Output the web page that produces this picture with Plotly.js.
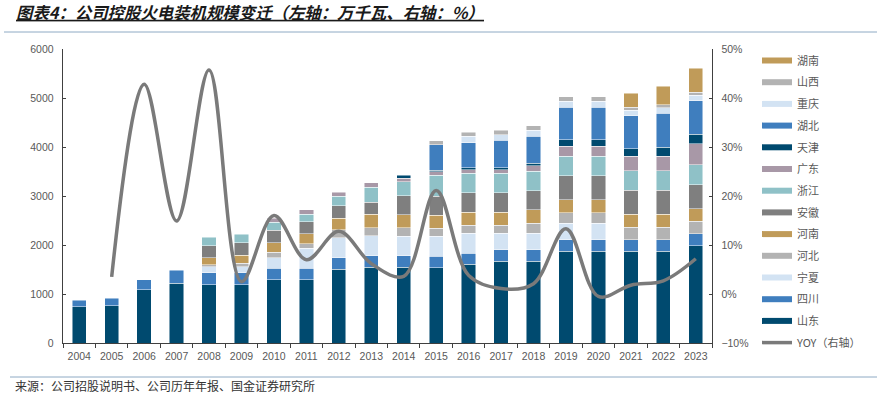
<!DOCTYPE html>
<html>
<head>
<meta charset="utf-8">
<script src="https://cdn.plot.ly/plotly-3.0.1.min.js"></script>
<style>html,body{margin:0;padding:0;background:#fff;}#chart{width:877px;height:393px;}</style>
</head>
<body>
<div id="chart"></div>
<script>
const years = ["2004","2005","2006","2007","2008","2009","2010","2011","2012","2013","2014","2015","2016","2017","2018","2019","2020","2021","2022","2023"];
const shandong = [735,765,1090,1220,1190,1190,1295,1295,1510,1545,1545,1540,1605,1665,1665,1870,1870,1870,1870,1985];
const sichuan  = [140,150,200,265,240,240,235,235,230,240,235,235,230,240,240,240,240,240,240,245];
const ningxia  = [0,0,0,0,130,125,210,400,405,400,395,400,400,330,335,335,335,0,0,0];
const hebei    = [0,0,0,0,40,70,115,100,165,170,175,170,170,170,205,210,210,250,250,250];
const henan    = [0,0,0,0,135,170,190,195,235,270,270,265,265,265,270,265,265,270,270,260];
const anhui    = [0,0,0,0,250,250,260,250,260,245,385,385,395,395,395,490,490,490,490,490];
const zhejiang = [0,0,0,0,170,170,155,155,185,305,285,425,400,400,395,400,400,400,400,405];
const guangdong= [0,0,0,0,0,0,90,85,85,95,75,75,75,75,115,205,205,290,290,435];
const tianjin  = [0,0,0,0,0,0,0,0,0,0,60,35,35,35,45,135,135,150,185,190];
const hubei    = [0,0,0,0,0,0,0,0,0,0,0,515,515,560,555,665,665,675,690,685];
const chongqing= [0,0,0,0,0,0,0,0,0,0,0,0,130,115,120,115,115,115,115,115];
const shanxi   = [0,0,0,0,0,0,0,0,0,0,0,80,80,95,90,95,95,65,65,60];
const hunan    = [0,0,0,0,0,0,0,0,0,0,0,0,0,0,0,0,0,280,375,490];
const yoy      = [null,3.5,42.8,14.9,45.7,2.5,16.0,7.0,12.8,6.2,3.6,21.1,3.8,1.1,2.1,13.3,-0.5,1.8,2.7,7.2];
const yTicks2  = [-10,0,10,20,30,40,50];
const yTickText2 = ["−10%","0%","10%","20%","30%","40%","50%"];

const C_NAVY="#004a6f", C_BLUE="#3f7ebe", C_LBLUE="#d3e3f3", C_LGRAY="#b3b3b3",
      C_TAN="#c09b59", C_GRAY="#7f7f7f", C_TEAL="#8fc1c7", C_MAUVE="#a898a7";

const series = [
  ["山东", shandong, C_NAVY],
  ["四川", sichuan, C_BLUE],
  ["宁夏", ningxia, C_LBLUE],
  ["河北", hebei, C_LGRAY],
  ["河南", henan, C_TAN],
  ["安徽", anhui, C_GRAY],
  ["浙江", zhejiang, C_TEAL],
  ["广东", guangdong, C_MAUVE],
  ["天津", tianjin, C_NAVY],
  ["湖北", hubei, C_BLUE],
  ["重庆", chongqing, C_LBLUE],
  ["山西", shanxi, C_LGRAY],
  ["湖南", hunan, C_TAN]
];

const traces = [];
series.forEach(function(s){
  traces.push({
    type:"bar", name:s[0], x:years, y:s[1].map(v => v===0?null:v),
    marker:{color:s[2], line:{color:"rgba(255,255,255,0.8)", width:0.6}},
    showlegend:false, hoverinfo:"x+y+name"
  });
});
traces.push({
  type:"scatter", mode:"lines", name:"YOY（右轴）", x:years, y:yoy, yaxis:"y2",
  line:{color:"#7a7a7a", width:3.5, shape:"spline", smoothing:1},
  showlegend:false, connectgaps:false
});
// legend entries (line-style keys as in the reference)
const legendOrder = series.slice().reverse();
legendOrder.forEach(function(s, i){
  traces.push({type:"scatter", mode:"lines", name:s[0], x:[null], y:[null],
    line:{color:s[2], width:6}, showlegend:true, legendgroup:"g"+i, legendrank:i+1, hoverinfo:"skip"});
});
traces.push({type:"scatter", mode:"lines", name:"YOY（右轴）", x:[null], y:[null], yaxis:"y2",
  line:{color:"#7a7a7a", width:3.5}, showlegend:true, legendgroup:"gy", legendrank:20, hoverinfo:"skip"});

const tickFont = {family:"Liberation Sans, Arial, sans-serif", size:10.5, color:"#595959"};
const layout = {
  width:877, height:393,
  margin:{l:63, r:165, t:49, b:50},
  paper_bgcolor:"#fff", plot_bgcolor:"#fff",
  barmode:"stack", bargap:0.56,
  font:{family:"Noto Sans CJK SC, sans-serif", color:"#595959"},
  title:{
    text:"<b><i><u>图表4：公司控股火电装机规模变迁（左轴：万千瓦、右轴：%）</u></i></b>",
    xref:"container", yref:"container", x:16/877, xanchor:"left", y:1-13/393, yanchor:"middle",
    font:{family:"Noto Sans CJK SC, sans-serif", size:16.4, color:"#1a1a1a"}
  },
  xaxis:{
    type:"category", tickfont:tickFont, tickangle:0, showgrid:false, zeroline:false,
    showline:true, linecolor:"#404040", linewidth:1.3, ticklabelstandoff:3,
    ticks:"outside", tickson:"boundaries", ticklen:4, tickcolor:"#404040", tickwidth:1,
    fixedrange:true
  },
  yaxis:{
    range:[0,6000], dtick:1000, tickfont:tickFont, showgrid:false, zeroline:false,
    showline:true, linecolor:"#404040", linewidth:1.3,
    ticks:"inside", ticklen:3, tickcolor:"#404040", ticklabelstandoff:6, fixedrange:true
  },
  yaxis2:{
    overlaying:"y", side:"right", range:[-10,50], tickvals:yTicks2, ticktext:yTickText2,
    tickfont:tickFont, showgrid:false, zeroline:false,
    showline:true, linecolor:"#404040", linewidth:1.3,
    ticks:"inside", ticklen:3, tickcolor:"#404040", ticklabelstandoff:6, fixedrange:true
  },
  legend:{
    xref:"container", yref:"container", x:757/877, xanchor:"left", y:1-46/393, yanchor:"top",
    font:{family:"Noto Sans CJK SC, sans-serif", size:11, color:"#595959"},
    tracegroupgap:2.7, itemwidth:30, bgcolor:"rgba(0,0,0,0)", traceorder:"grouped",
    maxheight:1
  },
  shapes:[
    {type:"line", xref:"paper", yref:"paper", x0:(4-63)/649, x1:(877-63)/649, y0:(343-32)/294, y1:(343-32)/294,
     line:{color:"#8eaac4", width:1}},
    {type:"line", xref:"paper", yref:"paper", x0:(10-63)/649, x1:(877-63)/649, y0:(343-377)/294, y1:(343-377)/294,
     line:{color:"#8eaac4", width:1}}
  ],
  annotations:[
    {text:"来源：公司招股说明书、公司历年年报、国金证券研究所", xref:"paper", yref:"paper",
     x:(13-63)/649, y:(343-385)/294, xanchor:"left", yanchor:"middle", showarrow:false,
     font:{family:"Noto Sans CJK SC, sans-serif", size:12, color:"#333"}}
  ]
};
Plotly.newPlot("chart", traces, layout, {displayModeBar:false, staticPlot:true});
</script>
</body>
</html>
